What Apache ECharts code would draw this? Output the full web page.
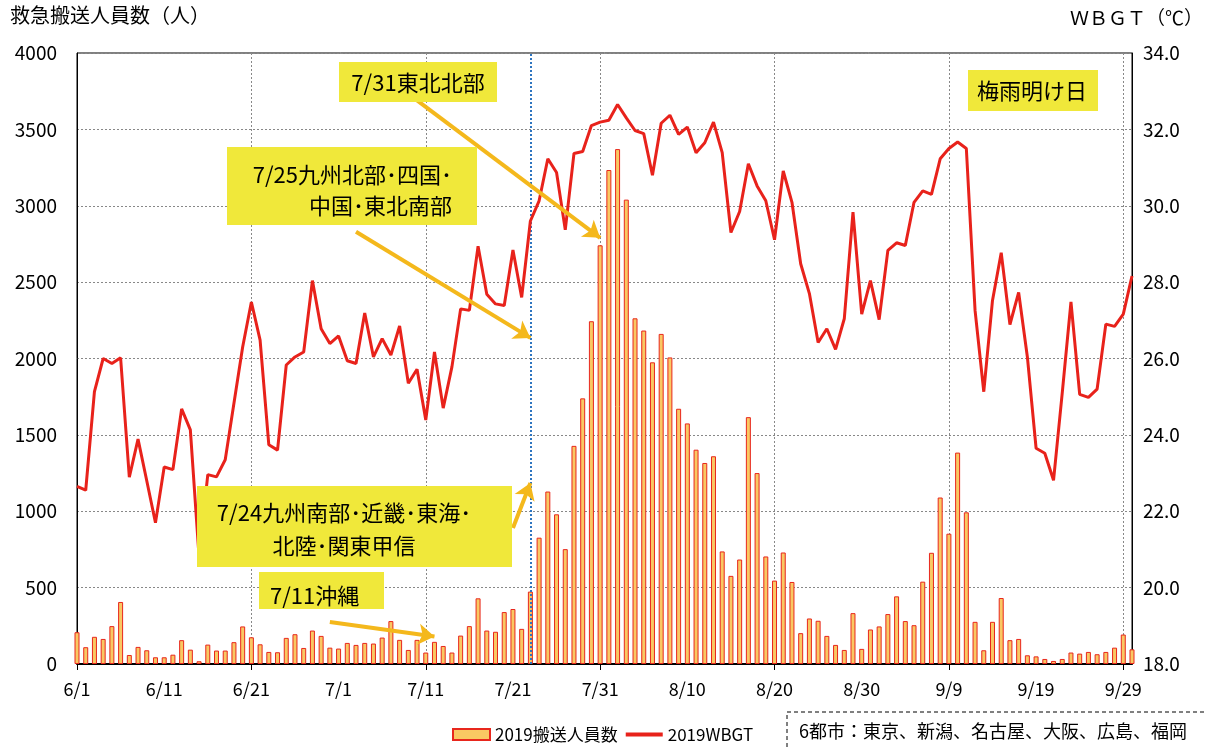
<!DOCTYPE html>
<html>
<head>
<meta charset="utf-8">
<script src="https://cdn.jsdelivr.net/npm/echarts@6/dist/echarts.min.js"></script>
<style>
  html, body { margin: 0; padding: 0; background: #fff; }
  #chart { width: 1205px; height: 747px; }
</style>
</head>
<body>
<div id="chart"></div>
<script>
// 日付（6/1〜9/30）
const months = [6, 7, 8, 9]
const monthDays = [30, 31, 31, 30]

// 救急搬送人員数（6都市合計）
const cases = [
  208, 110, 178, 164, 248, 406, 59, 112, 90, 44,
  44, 61, 156, 94, 18, 127, 88, 88, 143, 246,
  175, 129, 79, 77, 171, 195, 105, 219, 184, 107,
  101, 138, 125, 138, 134, 173, 281, 158, 92, 158,
  75, 145, 118, 75, 186, 248, 430, 219, 211, 340,
  360, 230, 474, 827, 1129, 980, 752, 1428, 1739, 2244,
  2741,
  3234, 3371, 3040, 2263, 2183, 1975, 2161, 2007, 1671, 1575,
  1403, 1316, 1360, 737, 577, 684, 1616, 1250, 704, 546,
  730, 537, 202, 298, 283, 184, 125, 92, 333, 99,
  226,
  246, 327, 443, 281, 254, 539, 728, 1090, 853, 1384,
  993, 276, 90, 276, 432, 156, 164, 57, 50, 33,
  20, 33, 75, 68, 79, 64, 79, 107, 193, 96
]

// WBGT（℃）
const wbgt = [
  22.65, 22.55, 25.13, 26.0, 25.87, 26.02, 22.89, 23.89, 22.8, 21.7,
  23.16, 23.09, 24.68, 24.13, 20.8, 22.96, 22.9, 23.35, 24.83, 26.3,
  27.48, 26.48, 23.74, 23.6, 25.83, 26.04, 26.17, 28.04, 26.78, 26.39,
  26.59, 25.94, 25.87, 27.19, 26.04, 26.52, 26.09, 26.85, 25.35, 25.72,
  24.39, 26.17, 24.7, 25.78, 27.3, 27.26, 28.94, 27.68, 27.43, 27.39,
  28.84, 27.6, 29.6, 30.13, 31.23, 30.87, 29.37, 31.37, 31.42, 32.1,
  32.19, 32.24, 32.65, 32.3, 31.97, 31.89, 30.8, 32.16, 32.37, 31.87,
  32.06, 31.39, 31.65, 32.19, 31.39, 29.3, 29.85, 31.1, 30.52, 30.13,
  29.11, 30.91, 30.09, 28.48, 27.7, 26.42, 26.78, 26.24, 27.04, 29.83,
  27.16, 28.04, 27.02, 28.83, 29.03, 28.96, 30.09, 30.39, 30.3, 31.23,
  31.5, 31.67, 31.5, 27.26, 25.13, 27.52, 28.77, 26.89, 27.73, 26.04,
  23.65, 23.52, 22.81, 25.1, 27.48, 25.06, 24.98, 25.2, 26.9, 26.84,
  27.16, 28.16
]

// 梅雨明け日の注記（開始日・値 → 矢印先の日・値）
const rainyEndLine = '7/23'
const arrowNotes = [
  { from: ['7/10', 3690], to: ['7/31', 2790] },
  { from: ['7/3', 2830], to: ['7/23', 2135] },
  { from: ['7/21', 890], to: ['7/23', 1185] },
  { from: ['6/30', 275], to: ['7/12', 180] }
]

const dates = []
months.forEach((m, i) => {
  for (let d = 1; d <= monthDays[i]; d++) dates.push(`${m}/${d}`)
})

const FONT = '"Noto Sans CJK JP", "Noto Sans", sans-serif'
const BOX = '#F0E83A'
const ARROW = '#F4B81C'

const chart = echarts.init(document.getElementById('chart'))

const noteBox = (x, y, w, h) => ({
  type: 'rect', z: 100, shape: { x, y, width: w, height: h }, style: { fill: BOX }
})
const noteText = (x, y, text, align, lh) => ({
  type: 'text', z: 101, x, y,
  style: {
    text, fill: '#000', font: `22px ${FONT}`,
    textAlign: align, textVerticalAlign: 'middle', lineHeight: lh || 31
  }
})

chart.setOption({
  animation: false,
  textStyle: { fontFamily: FONT },
  grid: {
    left: 77, right: 73, top: 53, bottom: 83,
    show: true, borderColor: '#000', borderWidth: 1
  },
  legend: {
    left: 447, top: 721,
    itemWidth: 37, itemHeight: 11, itemGap: 8,
    textStyle: { fontSize: 17, color: '#000', fontFamily: FONT },
    data: [
      { name: '2019搬送人員数', icon: 'rect' },
      { name: '2019WBGT', icon: 'path://M0,0 L38,0 L38,4 L0,4 Z' }
    ]
  },
  xAxis: {
    type: 'category',
    data: dates,
    boundaryGap: false,
    axisLine: { lineStyle: { color: '#000', width: 2 } },
    axisTick: { show: true, interval: 19, length: 6, lineStyle: { color: '#000' } },
    axisLabel: { interval: 9, color: '#000', fontSize: 18, margin: 16, fontFamily: FONT },
    splitLine: { show: true, interval: 19, lineStyle: { color: '#888', type: [2, 2], width: 1 } }
  },
  yAxis: [
    {
      type: 'value', min: 0, max: 4000, interval: 500,
      axisLine: { show: true, lineStyle: { color: '#000' } },
      axisTick: { show: false },
      axisLabel: { color: '#000', fontSize: 19, margin: 20, fontFamily: FONT, formatter: (v) => String(v) },
      splitLine: { lineStyle: { color: '#888', type: [2, 2], width: 1 } }
    },
    {
      type: 'value', min: 18, max: 34, interval: 2,
      axisLine: { show: true, lineStyle: { color: '#000' } },
      axisTick: { show: false },
      axisLabel: {
        color: '#000', fontSize: 19, margin: 11, fontFamily: FONT,
        formatter: (v) => v.toFixed(1)
      },
      splitLine: { show: false }
    }
  ],
  series: [
    {
      name: '2019搬送人員数',
      type: 'bar',
      data: cases,
      barWidth: 5,
      itemStyle: { color: '#F9C863', borderColor: '#E8271D', borderWidth: 1 },
      markLine: {
        silent: true,
        z: 50,
        symbol: ['none', 'arrow'],
        symbolSize: 16,
        label: { show: false },
        lineStyle: { color: ARROW, width: 4, type: 'solid' },
        data: arrowNotes.map((a) => [{ coord: a.from }, { coord: a.to }])
      }
    },
    {
      name: '2019WBGT',
      type: 'line',
      yAxisIndex: 1,
      data: wbgt,
      symbol: 'none',
      showSymbol: false,
      lineStyle: { color: '#E8221B', width: 3 },
      itemStyle: { color: '#E8221B' },
      z: 10,
      markLine: {
        silent: true,
        symbol: 'none',
        label: { show: false },
        lineStyle: { color: '#2E75C0', width: 2, type: [2, 2] },
        data: [{ xAxis: rainyEndLine }]
      }
    }
  ],
  graphic: [
    { type: 'text', left: 10, top: 5, style: { text: '救急搬送人員数（人）', fill: '#000', font: `20px ${FONT}` } },
    { type: 'text', x: 1203, y: 18, style: { text: 'ＷＢＧＴ（℃）', fill: '#000', font: `19px ${FONT}`, textAlign: 'right', textVerticalAlign: 'middle' } },

    noteBox(339, 62, 158, 40),
    noteText(418, 83, '7/31東北北部', 'center'),
    noteBox(227, 147, 250, 78),
    noteText(452, 190, '7/25九州北部･四国･\n中国･東北南部', 'right'),
    noteBox(197, 486, 315, 81),
    noteText(344, 529, '7/24九州南部･近畿･東海･\n北陸･関東甲信', 'center', 33),
    noteBox(259, 572, 125, 37),
    noteText(270, 596, '7/11沖縄', 'left'),
    noteBox(968, 70, 130, 41),
    noteText(1032, 91, '梅雨明け日', 'center'),

    {
      type: 'polyline', z: 5,
      shape: { points: [[787, 747], [787, 712], [1205, 712]] },
      style: { stroke: '#000', lineWidth: 1, lineDash: [4, 3], fill: null }
    },
    { type: 'text', x: 799, y: 731, style: { text: '6都市：東京、新潟、名古屋、大阪、広島、福岡', fill: '#000', font: `18px ${FONT}`, textVerticalAlign: 'middle' } }
  ]
})
</script>
</body>
</html>
